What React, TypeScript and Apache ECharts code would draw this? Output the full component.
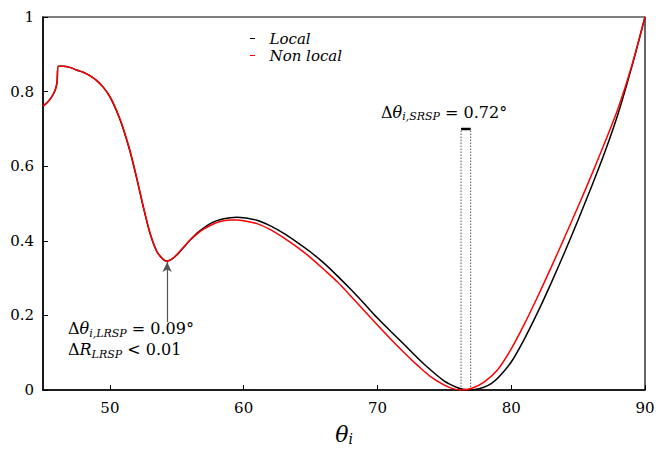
import React, { useEffect, useRef } from "react";
import * as echarts from "echarts";

const xLocal = [45.0, 45.3, 45.6, 45.9, 46.05, 46.15, 46.5, 47.0, 47.5, 48.0, 48.5, 49.0, 49.5, 50.0, 50.5, 51.0, 51.5, 52.0, 52.5, 53.0, 53.5, 54.0, 54.3, 54.6, 55.0, 55.5, 56.0, 56.5, 57.0, 57.5, 58.0, 58.5, 59.0, 59.5, 60.0, 61.0, 62.0, 63.0, 64.0, 65.0, 66.0, 67.0, 68.0, 69.0, 70.0, 71.0, 72.0, 73.0, 74.0, 75.0, 76.0, 76.4, 76.97, 77.5, 78.0, 78.5, 79.0, 80.0, 81.0, 82.0, 83.0, 84.0, 85.0, 86.0, 87.0, 88.0, 89.0, 90.0];
const yLocal = [0.761, 0.770, 0.783, 0.803, 0.825, 0.868, 0.868, 0.865, 0.858, 0.852, 0.843, 0.830, 0.812, 0.786, 0.748, 0.700, 0.640, 0.568, 0.490, 0.420, 0.372, 0.350, 0.346, 0.350, 0.362, 0.382, 0.402, 0.420, 0.434, 0.446, 0.454, 0.459, 0.462, 0.463, 0.462, 0.455, 0.440, 0.420, 0.396, 0.370, 0.340, 0.306, 0.270, 0.232, 0.193, 0.157, 0.122, 0.086, 0.053, 0.024, 0.006, 0.002, 0.0, 0.003, 0.008, 0.017, 0.032, 0.075, 0.138, 0.210, 0.288, 0.370, 0.456, 0.545, 0.638, 0.742, 0.865, 1.0];

const xNonLocal = [45.0, 45.3, 45.6, 45.9, 46.05, 46.15, 46.5, 47.0, 47.5, 48.0, 48.5, 49.0, 49.5, 50.0, 50.5, 51.0, 51.5, 52.0, 52.5, 53.0, 53.5, 54.0, 54.2, 54.6, 55.0, 55.5, 56.0, 56.5, 57.0, 57.5, 58.0, 58.5, 59.0, 59.5, 60.0, 61.0, 62.0, 63.0, 64.0, 65.0, 66.0, 67.0, 68.0, 69.0, 70.0, 71.0, 72.0, 73.0, 74.0, 75.0, 75.7, 76.25, 77.0, 78.0, 79.0, 80.0, 81.0, 82.0, 83.0, 84.0, 85.0, 86.0, 87.0, 88.0, 89.0, 90.0];
const yNonLocal = [0.761, 0.770, 0.783, 0.803, 0.825, 0.868, 0.868, 0.865, 0.858, 0.852, 0.843, 0.830, 0.812, 0.787, 0.750, 0.702, 0.642, 0.570, 0.492, 0.421, 0.372, 0.349, 0.345, 0.350, 0.363, 0.383, 0.402, 0.418, 0.431, 0.441, 0.449, 0.454, 0.456, 0.456, 0.454, 0.446, 0.430, 0.408, 0.383, 0.355, 0.323, 0.290, 0.252, 0.213, 0.174, 0.136, 0.100, 0.066, 0.035, 0.013, 0.003, 0.0, 0.004, 0.022, 0.055, 0.110, 0.178, 0.252, 0.330, 0.410, 0.492, 0.576, 0.664, 0.756, 0.868, 1.0];

const xTickValues = [50, 60, 70, 80, 90];
const srspX = [76.25, 76.97];
const srspTop = 0.7;
const lrspX = 54.28;
const lrspArrow = [0.182, 0.343];

const serif = "DejaVu Serif";

export default function App() {
  const ref = useRef<HTMLDivElement>(null);
  useEffect(() => {
    if (!ref.current) return;
    const chart = echarts.init(ref.current, undefined, { renderer: "svg" });
    const pair = (xs: number[], ys: number[]) => xs.map((x, i) => [x, ys[i]]);
    const sub = { fontFamily: serif, fontSize: 11, fontStyle: "italic", color: "#000", verticalAlign: "bottom", padding: [8, 0, 0, 0] };
    chart.setOption({
      animation: false,
      backgroundColor: "#fff",
      textStyle: { fontFamily: serif },
      grid: { left: 43, right: 11, top: 17, bottom: 60, show: true, borderColor: "#000", borderWidth: 1.2, outerBoundsMode: "none", containLabel: false },
      legend: {
        orient: "vertical",
        left: 245,
        top: 26,
        icon: "rect",
        itemWidth: 5,
        itemHeight: 1,
        itemGap: 2,
        data: ["Local", "Non local"],
        formatter: (n: string) => "  " + n,
        textStyle: { fontFamily: serif, fontStyle: "italic", fontSize: 15, color: "#000" },
      },
      xAxis: {
        type: "value",
        min: 45,
        max: 90,
        name: "{a|θ}{b|i}",
        nameLocation: "middle",
        nameGap: 32,
        nameTextStyle: {
          rich: {
            a: { fontFamily: serif, fontStyle: "italic", fontSize: 22, color: "#000" },
            b: { fontFamily: serif, fontStyle: "italic", fontSize: 14, color: "#000", verticalAlign: "bottom", padding: [10, 0, 0, 0] },
          },
        },
        axisLine: { lineStyle: { color: "#000", width: 1.5 } },
        axisTick: { inside: true, length: 5, customValues: xTickValues, lineStyle: { color: "#000" } },
        axisLabel: { customValues: xTickValues, fontFamily: serif, fontSize: 15, color: "#000", margin: 10 },
        splitLine: { show: false },
      },
      yAxis: {
        type: "value",
        min: 0,
        max: 1,
        interval: 0.2,
        axisLine: { show: true, lineStyle: { color: "#000", width: 1.5 } },
        axisTick: { show: true, inside: true, length: 5, lineStyle: { color: "#000" } },
        axisLabel: { fontFamily: serif, fontSize: 15, color: "#000", margin: 9 },
        splitLine: { show: false },
      },
      series: [
        {
          name: "Local",
          type: "line",
          data: pair(xLocal, yLocal),
          showSymbol: false,
          smooth: 0.3,
          color: "#000",
          lineStyle: { color: "#000", width: 1.5 },
          z: 3,
        },
        {
          name: "Non local",
          type: "line",
          data: pair(xNonLocal, yNonLocal),
          showSymbol: false,
          smooth: 0.3,
          color: "#ff0000",
          lineStyle: { color: "#ff0000", width: 1.5 },
          z: 4,
          markLine: {
            silent: true,
            symbol: ["none", "arrow"],
            symbolSize: [7, 10],
            label: { show: false },
            lineStyle: { color: "#555", width: 1.2, type: "solid" },
            data: [[{ coord: [lrspX, lrspArrow[0]] }, { coord: [lrspX, lrspArrow[1]] }]],
          },
        },
        {
          type: "line",
          data: [[srspX[0], 0], [srspX[0], srspTop]],
          showSymbol: false,
          lineStyle: { color: "#555", width: 1, type: [1.5, 1.5] },
          z: 2,
        },
        {
          type: "line",
          data: [[srspX[1], 0], [srspX[1], srspTop]],
          showSymbol: false,
          lineStyle: { color: "#555", width: 1, type: [1.5, 1.5] },
          z: 2,
        },
        {
          type: "line",
          data: [[srspX[0], srspTop], [srspX[1], srspTop]],
          showSymbol: false,
          lineStyle: { color: "#000", width: 2.5 },
          z: 2,
        },
      ],
      graphic: [
        {
          type: "text",
          left: 381,
          top: 104,
          style: {
            text: "{n|Δ}{i|θ}{s|i,SRSP}{n| = 0.72°}",
            rich: {
              n: { fontFamily: serif, fontSize: 16, color: "#000" },
              i: { fontFamily: serif, fontSize: 16, fontStyle: "italic", color: "#000" },
              s: sub,
            },
          },
        },
        {
          type: "text",
          left: 68,
          top: 320,
          style: {
            text: "{n|Δ}{i|θ}{s|i,LRSP}{n| = 0.09°}\n{n|Δ}{i|R}{s|LRSP}{n| < 0.01}",
            rich: {
              n: { fontFamily: serif, fontSize: 16, color: "#000", lineHeight: 21 },
              i: { fontFamily: serif, fontSize: 16, fontStyle: "italic", color: "#000", lineHeight: 21 },
              s: { ...sub, lineHeight: 21 },
            },
          },
        },
      ],
    });
    return () => chart.dispose();
  }, []);
  return <div ref={ref} style={{ position: "absolute", left: 0, top: 0, width: 656, height: 450 }} />;
}
